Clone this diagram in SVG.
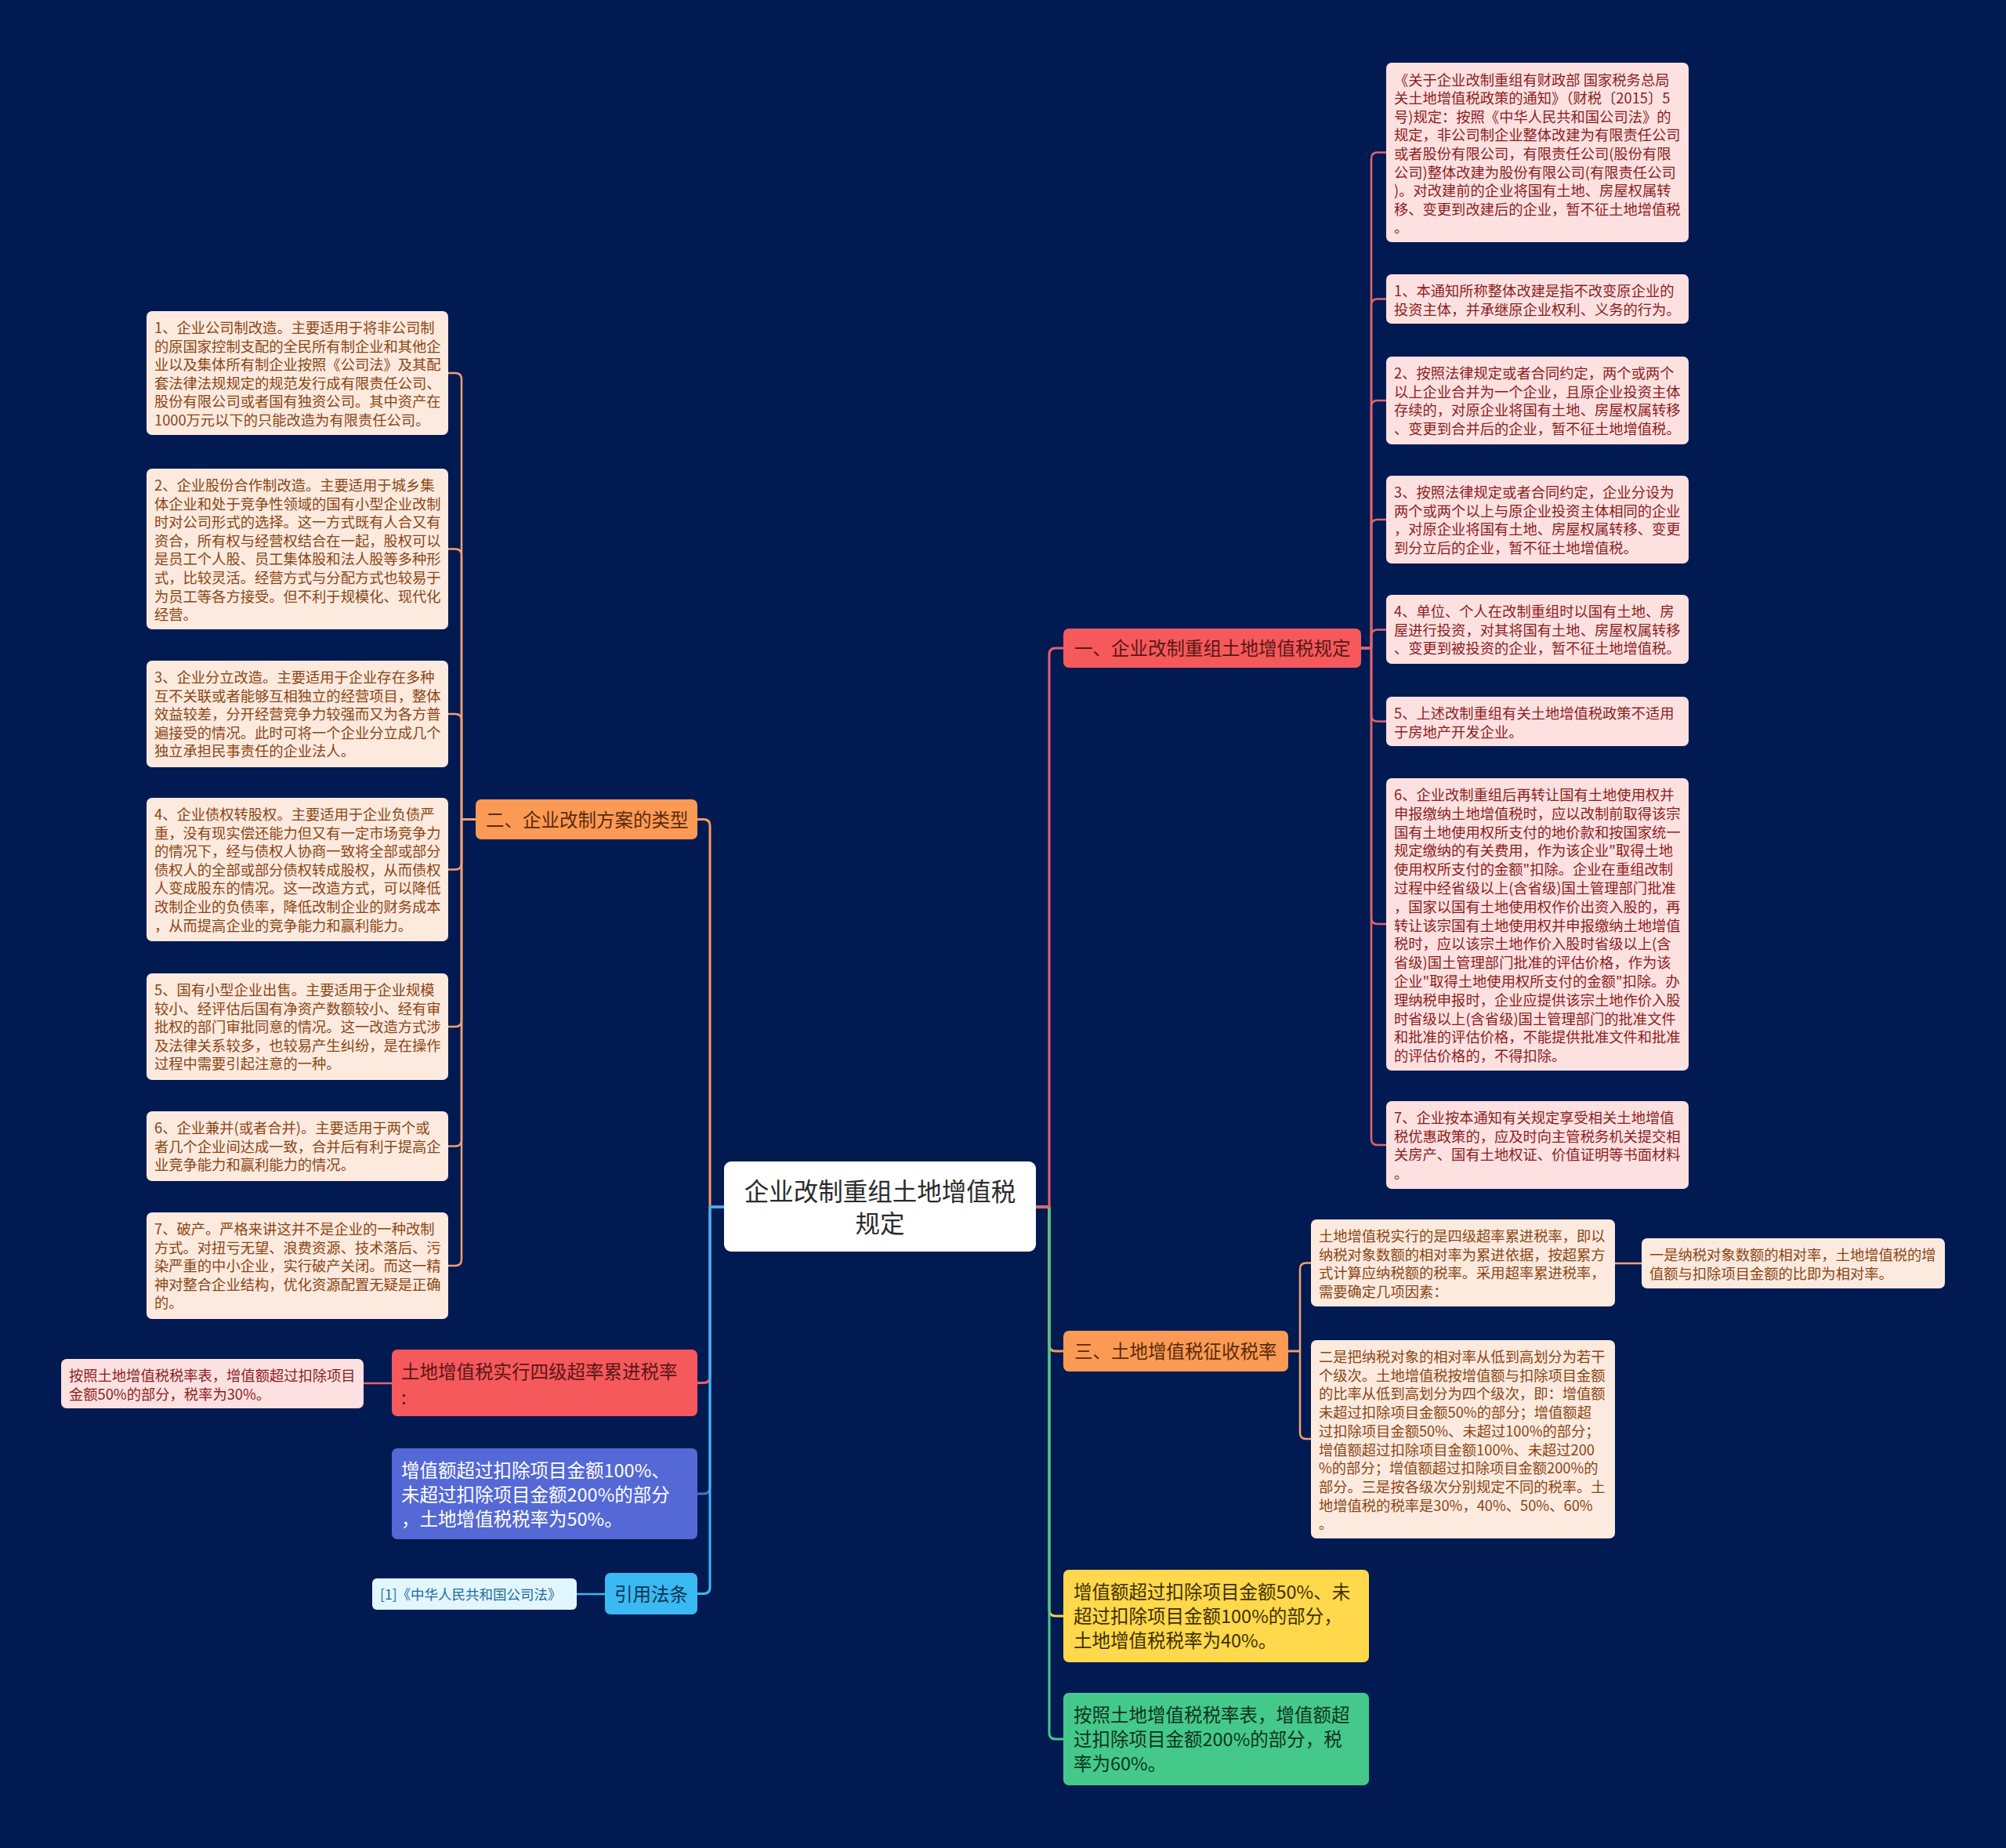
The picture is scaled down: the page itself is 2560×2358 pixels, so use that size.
<svg xmlns="http://www.w3.org/2000/svg" width="2560" height="2358" viewBox="0 0 2560 2358">
<style>
text{font-family:"Noto Sans CJK SC","Noto Sans",sans-serif;dominant-baseline:central}
.pk{fill:#fde1e1}
.pe{fill:#fdeadf}
.tpk{font-size:18.3px;fill:#8c1c1c;transform:translateY(-3px)}
.tpe{font-size:18.3px;fill:#8a4513;transform:translateY(-3px)}
.mid{font-size:23.5px}
.ln{fill:none;stroke-width:3;stroke-linecap:round;stroke-linejoin:round}
.sl{fill:none;stroke-width:2.5;stroke-linecap:round;stroke-linejoin:round}
</style>
<rect width="2560" height="2358" fill="#021a52"/>
<g id="connectors">
<path class="ln" stroke="#f99a55" d="M1322 1540H1339V1716Q1339 1724 1347 1724H1357"/>
<path class="ln" stroke="#f5d04a" d="M1322 1540H1339V2054Q1339 2062 1347 2062H1357"/>
<path class="ln" stroke="#45c98a" d="M1322 1540H1339V2211Q1339 2219 1347 2219H1357"/>
<path class="ln" stroke="#e8606b" d="M1322 1540H1339V835Q1339 827 1347 827H1357"/>
<path class="ln" stroke="#f99a55" d="M924 1540H906V1053.5Q906 1045.5 898 1045.5H890"/>
<path class="ln" stroke="#e8606b" d="M924 1540H906V1756.5Q906 1764.5 898 1764.5H890"/>
<path class="ln" stroke="#5468d6" d="M924 1540H906V1898Q906 1906 898 1906H890"/>
<path class="ln" stroke="#3ab9f2" d="M924 1540H906V2025.5Q906 2033.5 898 2033.5H890"/>
<g stroke="#e3646c">
<path class="sl" d="M1737 827H1750V202.5Q1750 194.5 1758 194.5H1769"/>
<path class="sl" d="M1737 827H1750V389.5Q1750 381.5 1758 381.5H1769"/>
<path class="sl" d="M1737 827H1750V519Q1750 511 1758 511H1769"/>
<path class="sl" d="M1737 827H1750V671Q1750 663 1758 663H1769"/>
<path class="sl" d="M1737 827H1750V811.5Q1750 803.5 1758 803.5H1769"/>
<path class="sl" d="M1737 827H1750V912.5Q1750 920.5 1758 920.5H1769"/>
<path class="sl" d="M1737 827H1750V1171Q1750 1179 1758 1179H1769"/>
<path class="sl" d="M1737 827H1750V1453Q1750 1461 1758 1461H1769"/>
</g>
<g stroke="#f2a072">
<path class="sl" d="M607 1045.5H589V484Q589 476 581 476H572"/>
<path class="sl" d="M607 1045.5H589V708.5Q589 700.5 581 700.5H572"/>
<path class="sl" d="M607 1045.5H589V919Q589 911 581 911H572"/>
<path class="sl" d="M607 1045.5H589V1101.5Q589 1109.5 581 1109.5H572"/>
<path class="sl" d="M607 1045.5H589V1302Q589 1310 581 1310H572"/>
<path class="sl" d="M607 1045.5H589V1454.5Q589 1462.5 581 1462.5H572"/>
<path class="sl" d="M607 1045.5H589V1607Q589 1615 581 1615H572"/>
</g>
<g stroke="#f2a072">
<path class="sl" d="M1644 1724H1659V1619.5Q1659 1611.5 1667 1611.5H1673"/>
<path class="sl" d="M1644 1724H1659V1828Q1659 1836 1667 1836H1673"/>
<path class="sl" d="M2061 1612H2095"/>
</g>
<path class="sl" stroke="#e8606b" d="M500 1765H464"/>
<path class="sl" stroke="#3ab9f2" d="M772 2034H736"/>
</g>

<g id="center">
<rect x="924" y="1482" width="398" height="115" rx="9" fill="#ffffff"/>
<text x="1123" y="1518" font-size="31.5" fill="#2b2b2b" text-anchor="middle">企业改制重组土地增值税</text>
<text x="1123" y="1559" font-size="31.5" fill="#2b2b2b" text-anchor="middle">规定</text>
</g>

<g id="branch1">
<rect x="1357" y="802" width="380" height="50" rx="7" fill="#f5595b"/>
<text class="mid" x="1371" y="826" fill="#5a1616">一、企业改制重组土地增值税规定</text>
</g>
<g id="b1-a">
<rect class="pk" x="1769" y="80" width="386" height="229" rx="7"/>
<text class="tpk" x="1779" y="103.5"><tspan x="1779" dy="0">《关于企业改制重组有财政部 国家税务总局</tspan><tspan x="1779" dy="23.6">关土地增值税政策的通知》（财税〔2015〕5</tspan><tspan x="1779" dy="23.6">号)规定：按照《中华人民共和国公司法》的</tspan><tspan x="1779" dy="23.6">规定，非公司制企业整体改建为有限责任公司</tspan><tspan x="1779" dy="23.6">或者股份有限公司，有限责任公司(股份有限</tspan><tspan x="1779" dy="23.6">公司)整体改建为股份有限公司(有限责任公司</tspan><tspan x="1779" dy="23.6">)。对改建前的企业将国有土地、房屋权属转</tspan><tspan x="1779" dy="23.6">移、变更到改建后的企业，暂不征土地增值税</tspan><tspan x="1779" dy="23.6">。</tspan></text>
</g>
<g id="b1-1">
<rect class="pk" x="1769" y="350" width="386" height="63" rx="7"/>
<text class="tpk" x="1779" y="373"><tspan x="1779" dy="0">1、本通知所称整体改建是指不改变原企业的</tspan><tspan x="1779" dy="23.6">投资主体，并承继原企业权利、义务的行为。</tspan></text>
</g>
<g id="b1-2">
<rect class="pk" x="1769" y="455" width="386" height="112" rx="7"/>
<text class="tpk" x="1779" y="478"><tspan x="1779" dy="0">2、按照法律规定或者合同约定，两个或两个</tspan><tspan x="1779" dy="23.6">以上企业合并为一个企业，且原企业投资主体</tspan><tspan x="1779" dy="23.6">存续的，对原企业将国有土地、房屋权属转移</tspan><tspan x="1779" dy="23.6">、变更到合并后的企业，暂不征土地增值税。</tspan></text>
</g>
<g id="b1-3">
<rect class="pk" x="1769" y="607" width="386" height="112" rx="7"/>
<text class="tpk" x="1779" y="630"><tspan x="1779" dy="0">3、按照法律规定或者合同约定，企业分设为</tspan><tspan x="1779" dy="23.6">两个或两个以上与原企业投资主体相同的企业</tspan><tspan x="1779" dy="23.6">，对原企业将国有土地、房屋权属转移、变更</tspan><tspan x="1779" dy="23.6">到分立后的企业，暂不征土地增值税。</tspan></text>
</g>
<g id="b1-4">
<rect class="pk" x="1769" y="759" width="386" height="88" rx="7"/>
<text class="tpk" x="1779" y="782"><tspan x="1779" dy="0">4、单位、个人在改制重组时以国有土地、房</tspan><tspan x="1779" dy="23.6">屋进行投资，对其将国有土地、房屋权属转移</tspan><tspan x="1779" dy="23.6">、变更到被投资的企业，暂不征土地增值税。</tspan></text>
</g>
<g id="b1-5">
<rect class="pk" x="1769" y="889" width="386" height="63" rx="7"/>
<text class="tpk" x="1779" y="912"><tspan x="1779" dy="0">5、上述改制重组有关土地增值税政策不适用</tspan><tspan x="1779" dy="23.6">于房地产开发企业。</tspan></text>
</g>
<g id="b1-6">
<rect class="pk" x="1769" y="993" width="386" height="373" rx="7"/>
<text class="tpk" x="1779" y="1016"><tspan x="1779" dy="0">6、企业改制重组后再转让国有土地使用权并</tspan><tspan x="1779" dy="23.8">申报缴纳土地增值税时，应以改制前取得该宗</tspan><tspan x="1779" dy="23.8">国有土地使用权所支付的地价款和按国家统一</tspan><tspan x="1779" dy="23.8">规定缴纳的有关费用，作为该企业"取得土地</tspan><tspan x="1779" dy="23.8">使用权所支付的金额"扣除。企业在重组改制</tspan><tspan x="1779" dy="23.8">过程中经省级以上(含省级)国土管理部门批准</tspan><tspan x="1779" dy="23.8">，国家以国有土地使用权作价出资入股的，再</tspan><tspan x="1779" dy="23.8">转让该宗国有土地使用权并申报缴纳土地增值</tspan><tspan x="1779" dy="23.8">税时，应以该宗土地作价入股时省级以上(含</tspan><tspan x="1779" dy="23.8">省级)国土管理部门批准的评估价格，作为该</tspan><tspan x="1779" dy="23.8">企业"取得土地使用权所支付的金额"扣除。办</tspan><tspan x="1779" dy="23.8">理纳税申报时，企业应提供该宗土地作价入股</tspan><tspan x="1779" dy="23.8">时省级以上(含省级)国土管理部门的批准文件</tspan><tspan x="1779" dy="23.8">和批准的评估价格，不能提供批准文件和批准</tspan><tspan x="1779" dy="23.8">的评估价格的，不得扣除。</tspan></text>
</g>
<g id="b1-7">
<rect class="pk" x="1769" y="1405" width="386" height="112" rx="7"/>
<text class="tpk" x="1779" y="1428"><tspan x="1779" dy="0">7、企业按本通知有关规定享受相关土地增值</tspan><tspan x="1779" dy="23.6">税优惠政策的，应及时向主管税务机关提交相</tspan><tspan x="1779" dy="23.6">关房产、国有土地权证、价值证明等书面材料</tspan><tspan x="1779" dy="23.6">。</tspan></text>
</g>

<g id="branch2">
<rect x="607" y="1020" width="283" height="51" rx="7" fill="#fb9a55"/>
<text class="mid" x="620" y="1044.5" fill="#5a2a0a">二、企业改制方案的类型</text>
</g>
<g id="b2-1">
<rect class="pe" x="187" y="397" width="385" height="158" rx="7"/>
<text class="tpe" x="197" y="420"><tspan x="197" dy="0">1、企业公司制改造。主要适用于将非公司制</tspan><tspan x="197" dy="23.6">的原国家控制支配的全民所有制企业和其他企</tspan><tspan x="197" dy="23.6">业以及集体所有制企业按照《公司法》及其配</tspan><tspan x="197" dy="23.6">套法律法规规定的规范发行成有限责任公司、</tspan><tspan x="197" dy="23.6">股份有限公司或者国有独资公司。其中资产在</tspan><tspan x="197" dy="23.6">1000万元以下的只能改造为有限责任公司。</tspan></text>
</g>
<g id="b2-2">
<rect class="pe" x="187" y="598" width="385" height="205" rx="7"/>
<text class="tpe" x="197" y="621"><tspan x="197" dy="0">2、企业股份合作制改造。主要适用于城乡集</tspan><tspan x="197" dy="23.6">体企业和处于竞争性领域的国有小型企业改制</tspan><tspan x="197" dy="23.6">时对公司形式的选择。这一方式既有人合又有</tspan><tspan x="197" dy="23.6">资合，所有权与经营权结合在一起，股权可以</tspan><tspan x="197" dy="23.6">是员工个人股、员工集体股和法人股等多种形</tspan><tspan x="197" dy="23.6">式，比较灵活。经营方式与分配方式也较易于</tspan><tspan x="197" dy="23.6">为员工等各方接受。但不利于规模化、现代化</tspan><tspan x="197" dy="23.6">经营。</tspan></text>
</g>
<g id="b2-3">
<rect class="pe" x="187" y="843" width="385" height="136" rx="7"/>
<text class="tpe" x="197" y="866"><tspan x="197" dy="0">3、企业分立改造。主要适用于企业存在多种</tspan><tspan x="197" dy="23.6">互不关联或者能够互相独立的经营项目，整体</tspan><tspan x="197" dy="23.6">效益较差，分开经营竞争力较强而又为各方普</tspan><tspan x="197" dy="23.6">遍接受的情况。此时可将一个企业分立成几个</tspan><tspan x="197" dy="23.6">独立承担民事责任的企业法人。</tspan></text>
</g>
<g id="b2-4">
<rect class="pe" x="187" y="1018" width="385" height="183" rx="7"/>
<text class="tpe" x="197" y="1041"><tspan x="197" dy="0">4、企业债权转股权。主要适用于企业负债严</tspan><tspan x="197" dy="23.6">重，没有现实偿还能力但又有一定市场竞争力</tspan><tspan x="197" dy="23.6">的情况下，经与债权人协商一致将全部或部分</tspan><tspan x="197" dy="23.6">债权人的全部或部分债权转成股权，从而债权</tspan><tspan x="197" dy="23.6">人变成股东的情况。这一改造方式，可以降低</tspan><tspan x="197" dy="23.6">改制企业的负债率，降低改制企业的财务成本</tspan><tspan x="197" dy="23.6">，从而提高企业的竞争能力和赢利能力。</tspan></text>
</g>
<g id="b2-5">
<rect class="pe" x="187" y="1242" width="385" height="136" rx="7"/>
<text class="tpe" x="197" y="1265"><tspan x="197" dy="0">5、国有小型企业出售。主要适用于企业规模</tspan><tspan x="197" dy="23.6">较小、经评估后国有净资产数额较小、经有审</tspan><tspan x="197" dy="23.6">批权的部门审批同意的情况。这一改造方式涉</tspan><tspan x="197" dy="23.6">及法律关系较多，也较易产生纠纷，是在操作</tspan><tspan x="197" dy="23.6">过程中需要引起注意的一种。</tspan></text>
</g>
<g id="b2-6">
<rect class="pe" x="187" y="1418" width="385" height="89" rx="7"/>
<text class="tpe" x="197" y="1441"><tspan x="197" dy="0">6、企业兼并(或者合并)。主要适用于两个或</tspan><tspan x="197" dy="23.6">者几个企业间达成一致，合并后有利于提高企</tspan><tspan x="197" dy="23.6">业竞争能力和赢利能力的情况。</tspan></text>
</g>
<g id="b2-7">
<rect class="pe" x="187" y="1547" width="385" height="136" rx="7"/>
<text class="tpe" x="197" y="1570"><tspan x="197" dy="0">7、破产。严格来讲这并不是企业的一种改制</tspan><tspan x="197" dy="23.6">方式。对扭亏无望、浪费资源、技术落后、污</tspan><tspan x="197" dy="23.6">染严重的中小企业，实行破产关闭。而这一精</tspan><tspan x="197" dy="23.6">神对整合企业结构，优化资源配置无疑是正确</tspan><tspan x="197" dy="23.6">的。</tspan></text>
</g>

<g id="red-left">
<rect x="500" y="1722" width="390" height="85" rx="7" fill="#f5595b"/>
<text class="mid" x="512" y="1749" fill="#5a1616">土地增值税实行四级超率累进税率</text>
<text class="mid" x="512" y="1782" fill="#5a1616">:</text>
</g>
<g id="red-left-child">
<rect class="pk" x="78" y="1734" width="386" height="63" rx="7"/>
<text class="tpk" x="88" y="1757"><tspan x="88" dy="0">按照土地增值税税率表，增值额超过扣除项目</tspan><tspan x="88" dy="23.6">金额50%的部分，税率为30%。</tspan></text>
</g>
<g id="blue-left">
<rect x="500" y="1848" width="390" height="116" rx="7" fill="#5468d6"/>
<text class="mid" x="512" y="1875" fill="#ffffff">增值额超过扣除项目金额100%、</text>
<text class="mid" x="512" y="1906" fill="#ffffff">未超过扣除项目金额200%的部分</text>
<text class="mid" x="512" y="1937" fill="#ffffff">，土地增值税税率为50%。</text>
</g>
<g id="cite">
<rect x="772" y="2007" width="118" height="53" rx="7" fill="#3ab9f2"/>
<text class="mid" x="831" y="2032.5" fill="#0a3550" text-anchor="middle">引用法条</text>
</g>
<g id="cite-child">
<rect x="475" y="2014" width="261" height="40" rx="6" fill="#e1f6fd"/>
<text x="485" y="2033" font-size="17.5" fill="#1d6a9a">[1]《中华人民共和国公司法》</text>
</g>

<g id="branch3">
<rect x="1357" y="1698" width="287" height="52" rx="7" fill="#fb9a55"/>
<text class="mid" x="1371" y="1723" fill="#5a2a0a">三、土地增值税征收税率</text>
</g>
<g id="b3-a">
<rect class="pe" x="1673" y="1556" width="388" height="111" rx="7"/>
<text class="tpe" x="1683" y="1579"><tspan x="1683" dy="0">土地增值税实行的是四级超率累进税率，即以</tspan><tspan x="1683" dy="23.6">纳税对象数额的相对率为累进依据，按超累方</tspan><tspan x="1683" dy="23.6">式计算应纳税额的税率。采用超率累进税率，</tspan><tspan x="1683" dy="23.6">需要确定几项因素：</tspan></text>
</g>
<g id="b3-a1">
<rect class="pe" x="2095" y="1580" width="387" height="64" rx="7"/>
<text class="tpe" x="2105" y="1603"><tspan x="2105" dy="0">一是纳税对象数额的相对率，土地增值税的增</tspan><tspan x="2105" dy="23.6">值额与扣除项目金额的比即为相对率。</tspan></text>
</g>
<g id="b3-b">
<rect class="pe" x="1673" y="1710" width="388" height="253" rx="7"/>
<text class="tpe" x="1683" y="1733"><tspan x="1683" dy="0">二是把纳税对象的相对率从低到高划分为若干</tspan><tspan x="1683" dy="23.7">个级次。土地增值税按增值额与扣除项目金额</tspan><tspan x="1683" dy="23.7">的比率从低到高划分为四个级次，即：增值额</tspan><tspan x="1683" dy="23.7">未超过扣除项目金额50%的部分；增值额超</tspan><tspan x="1683" dy="23.7">过扣除项目金额50%、未超过100%的部分；</tspan><tspan x="1683" dy="23.7">增值额超过扣除项目金额100%、未超过200</tspan><tspan x="1683" dy="23.7">%的部分；增值额超过扣除项目金额200%的</tspan><tspan x="1683" dy="23.7">部分。三是按各级次分别规定不同的税率。土</tspan><tspan x="1683" dy="23.7">地增值税的税率是30%，40%、50%、60%</tspan><tspan x="1683" dy="23.7">。</tspan></text>
</g>

<g id="yellow">
<rect x="1357" y="2003" width="390" height="118" rx="7" fill="#ffd84b"/>
<text class="mid" x="1370" y="2030" fill="#3d3000">增值额超过扣除项目金额50%、未</text>
<text class="mid" x="1370" y="2061" fill="#3d3000">超过扣除项目金额100%的部分，</text>
<text class="mid" x="1370" y="2092" fill="#3d3000">土地增值税税率为40%。</text>
</g>
<g id="green">
<rect x="1357" y="2160" width="390" height="118" rx="7" fill="#45c98a"/>
<text class="mid" x="1370" y="2187" fill="#0d3322">按照土地增值税税率表，增值额超</text>
<text class="mid" x="1370" y="2218" fill="#0d3322">过扣除项目金额200%的部分，税</text>
<text class="mid" x="1370" y="2249" fill="#0d3322">率为60%。</text>
</g>
</svg>
